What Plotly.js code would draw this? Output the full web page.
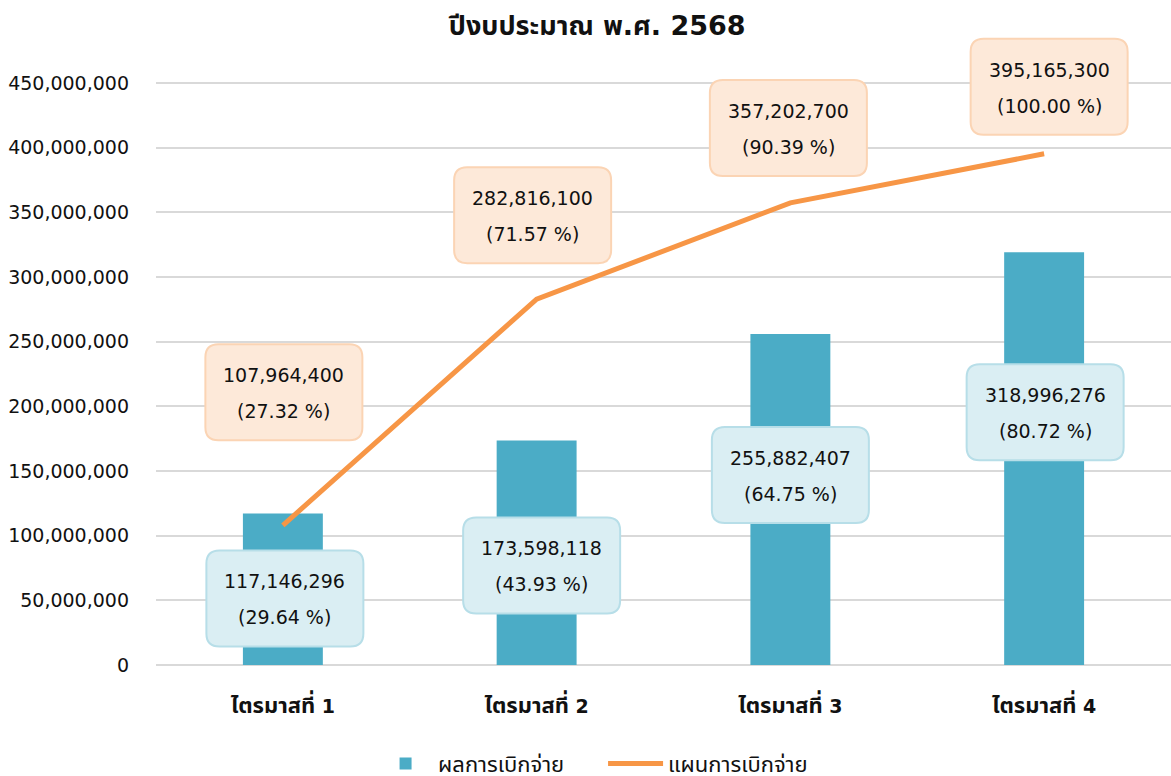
<!DOCTYPE html>
<html>
<head>
<meta charset="utf-8">
<script src="https://cdn.plot.ly/plotly-3.0.1.min.js"></script>
<style>html,body{margin:0;padding:0;background:#fff;overflow:hidden}#chart{width:1171px;height:776px}</style>
</head>
<body>
<div id="chart"></div>
<script>
// ---- data ----
const categories = ['ไตรมาสที่ 1', 'ไตรมาสที่ 2', 'ไตรมาสที่ 3', 'ไตรมาสที่ 4'];
const actualValues = [117146296, 173598118, 255882407, 318996276];
const actualPercent = [29.64, 43.93, 64.75, 80.72];
const planValues = [107964400, 282816100, 357202700, 395165300];
const planPercent = [27.32, 71.57, 90.39, 100.00];
const seriesNames = ['ผลการเบิกจ่าย', 'แผนการเบิกจ่าย'];
const titleText = 'ปีงบประมาณ พ.ศ. 2568';

// ---- label placement (pixel offsets from each point) ----
const planLabelShift = [[1, 133], [-4, 84], [-2, 75], [5, 67]];
const actualLabelShift = [[2, -85], [5, -125], [0, -141], [1, -160]];

const FONT = "'DejaVu Sans', Tahoma, 'Noto Sans Thai', sans-serif";
const fmt = v => v.toLocaleString('en-US');
const pct = p => '(' + p.toFixed(2) + ' %)';

function roundRect(cx, cy, w, h, r) {
  const x0 = cx - w / 2, x1 = cx + w / 2, y0 = cy - h / 2, y1 = cy + h / 2;
  return `M${x0 + r},${y0} L${x1 - r},${y0} Q${x1},${y0} ${x1},${y0 + r} L${x1},${y1 - r} Q${x1},${y1} ${x1 - r},${y1} L${x0 + r},${y1} Q${x0},${y1} ${x0},${y1 - r} L${x0},${y0 + r} Q${x0},${y0} ${x0 + r},${y0} Z`;
}

const shapes = [];
const annotations = [];
function addLabel(cat, val, shift, value, p, fill, border) {
  shapes.push({
    type: 'path', layer: 'above', xref: 'x', yref: 'y',
    xsizemode: 'pixel', ysizemode: 'pixel', xanchor: cat, yanchor: val,
    path: roundRect(shift[0], shift[1], 157, 96, 13),
    fillcolor: fill, line: {color: border, width: 2}
  });
  annotations.push({x: cat, y: val, xref: 'x', yref: 'y', text: fmt(value), showarrow: false,
    xshift: shift[0], yshift: shift[1] + 17, font: {family: FONT, size: 19, color: '#111'}});
  annotations.push({x: cat, y: val, xref: 'x', yref: 'y', text: pct(p), showarrow: false,
    xshift: shift[0], yshift: shift[1] - 19, font: {family: FONT, size: 19, color: '#111'}});
}
categories.forEach((c, i) => {
  addLabel(c, planValues[i], planLabelShift[i], planValues[i], planPercent[i], '#FDE9D9', '#FBD4B4');
  addLabel(c, actualValues[i], actualLabelShift[i], actualValues[i], actualPercent[i], '#DAEEF3', '#B7DEE8');
});

// tick text: Thai part larger (fallback Thai font runs small), number at normal size
const tickText = categories.map(c => c.replace(/ (\d+)$/, '<span style="font-size:19px"> $1</span>'));

const traces = [
  {type: 'bar', name: seriesNames[0], x: categories, y: actualValues,
   marker: {color: '#4BACC6'}, width: 0.315, hoverinfo: 'y'},
  {type: 'scatter', mode: 'lines', name: seriesNames[1], x: categories, y: planValues,
   line: {color: '#F79646', width: 5}, hoverinfo: 'y'}
];

const layout = {
  width: 1171, height: 776,
  margin: {l: 156, r: 0, t: 35, b: 111},
  paper_bgcolor: '#fff', plot_bgcolor: '#fff',
  font: {family: FONT, size: 19, color: '#111'},
  title: {text: '<b>' + titleText + '</b>', x: 0.51, xref: 'container', xanchor: 'center',
          y: 0.967, yref: 'container', yanchor: 'middle',
          font: {family: FONT, size: 27, color: '#111'}},
  xaxis: {type: 'category', showgrid: false, showline: false, zeroline: false, ticks: '',
          tickvals: categories, ticktext: tickText,
          tickfont: {family: FONT, size: 22, color: '#111', weight: 'bold'}, ticklabelstandoff: 25,
          fixedrange: true},
  yaxis: {range: [0, 487000000], tickvals: [0, 50000000, 100000000, 150000000, 200000000, 250000000, 300000000, 350000000, 400000000, 450000000],
          tickformat: ',d',
          showgrid: true, gridcolor: '#D9D9D9', gridwidth: 2,
          zeroline: true, zerolinecolor: '#D9D9D9', zerolinewidth: 2,
          showline: false, ticks: '', ticklabelstandoff: 26,
          tickfont: {family: FONT, size: 19, color: '#111'}, fixedrange: true},
  showlegend: true,
  legend: {orientation: 'h', xref: 'container', yref: 'container', x: 0.515, y: 0.016,
           xanchor: 'center', yanchor: 'middle', font: {family: FONT, size: 22, color: '#111'},
           itemwidth: 55, entrywidth: 160, entrywidthmode: 'pixels', traceorder: 'normal'},
  shapes: shapes,
  annotations: annotations
};

Plotly.newPlot('chart', traces, layout, {displayModeBar: false, responsive: false});
</script>
</body>
</html>
